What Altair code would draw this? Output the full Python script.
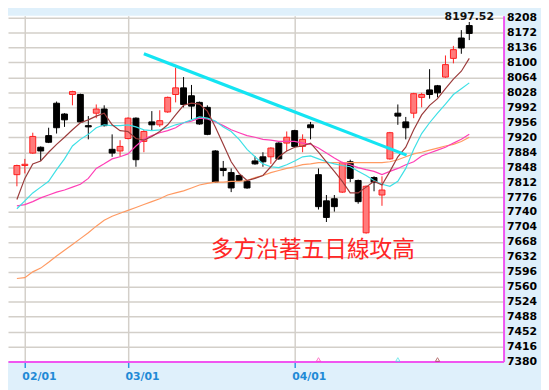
import altair as alt
import pandas as pd

# ---------------- data ----------------
idx = list(range(58))
opens = [7830, 7852, 7882, 7896, 7924, 8002, 7976, 8023, 8023, 7948,
         7978, 7988, 7891, 7887, 7917, 7966, 7910, 7957, 7950, 7981,
         8023, 8039, 8020, 8004, 7992, 7887, 7845, 7835, 7828, 7814,
         7863, 7873, 7873, 7906, 7906, 7936, 7898, 7950, 7830, 7767,
         7772, 7788, 7861, 7816, 7690, 7823, 7781, 7868, 7978, 7957,
         7978, 8016, 8034, 8044, 8065, 8110, 8159, 8189]
highs = [7854, 7868, 7931, 7898, 7943, 8006, 7978, 8032, 8025, 7971,
         7999, 7997, 7927, 7913, 7968, 7968, 7938, 7983, 7985, 8018,
         8088, 8065, 8046, 8006, 7997, 7889, 7863, 7845, 7830, 7816,
         7875, 7884, 7896, 7908, 7934, 7938, 7927, 7957, 7845, 7781,
         7781, 7861, 7866, 7818, 7804, 7826, 7826, 7933, 7999, 7969,
         8027, 8027, 8084, 8046, 8117, 8140, 8178, 8197.52]
lows = [7802, 7833, 7880, 7863, 7906, 7929, 7945, 7997, 7955, 7915,
        7966, 7946, 7873, 7873, 7915, 7849, 7884, 7936, 7945, 7979,
        8004, 7992, 7962, 7950, 7925, 7810, 7826, 7788, 7814, 7796,
        7854, 7849, 7856, 7866, 7887, 7896, 7884, 7915, 7746, 7716,
        7741, 7786, 7812, 7760, 7688, 7790, 7755, 7866, 7950, 7915,
        7966, 7992, 8013, 8016, 8063, 8098, 8121, 8154]
closes = [7852, 7855, 7922, 7887, 7908, 7943, 7962, 8030, 7957, 7945,
          7988, 7948, 7882, 7898, 7966, 7866, 7934, 7950, 7960, 8016,
          8039, 7999, 7995, 7952, 7927, 7812, 7840, 7798, 7816, 7798,
          7856, 7861, 7894, 7868, 7920, 7898, 7915, 7943, 7753, 7727,
          7753, 7859, 7821, 7765, 7802, 7812, 7793, 7931, 7971, 7943,
          8025, 8023, 8023, 8027, 8095, 8131, 8135, 8170]

ma5 = [7770, 7821, 7856, 7863, 7884, 7903, 7920, 7938, 7955, 7962,
       7971, 7978, 7950, 7936, 7934, 7917, 7913, 7922, 7934, 7950,
       7974, 7997, 8002, 8000, 7983, 7945, 7903, 7861, 7833, 7816,
       7821, 7828, 7849, 7873, 7887, 7896, 7899, 7906, 7884, 7861,
       7838, 7814, 7786, 7786, 7800, 7814, 7805, 7838, 7873, 7896,
       7938, 7974, 7997, 8013, 8037, 8060, 8079, 8110]
ma10 = [7748, 7767, 7786, 7800, 7814, 7842, 7868, 7899, 7915, 7927,
        7943, 7950, 7948, 7948, 7950, 7945, 7938, 7936, 7938, 7943,
        7950, 7955, 7962, 7969, 7966, 7959, 7945, 7934, 7915, 7891,
        7873, 7856, 7849, 7847, 7854, 7863, 7873, 7875, 7868, 7861,
        7856, 7852, 7849, 7838, 7828, 7816, 7807, 7802, 7814, 7845,
        7891, 7929, 7955, 7978, 8000, 8023, 8037, 8051]
ma20 = [7755, 7758, 7765, 7774, 7781, 7788, 7793, 7800, 7807, 7821,
        7845, 7856, 7868, 7873, 7880, 7899, 7915, 7924, 7931, 7936,
        7943, 7955, 7959, 7966, 7964, 7957, 7948, 7938, 7931, 7924,
        7920, 7915, 7913, 7910, 7910, 7910, 7906, 7903, 7894, 7882,
        7870, 7859, 7854, 7847, 7842, 7838, 7830, 7838, 7845, 7854,
        7861, 7875, 7882, 7889, 7896, 7906, 7915, 7927]
ma60 = [7580, 7582, 7596, 7605, 7619, 7634, 7648, 7662, 7676, 7690,
        7706, 7720, 7730, 7737, 7744, 7751, 7758, 7765, 7772, 7781,
        7786, 7791, 7798, 7805, 7809, 7812, 7812, 7814, 7814, 7816,
        7823, 7828, 7835, 7840, 7845, 7849, 7854, 7856, 7859, 7859,
        7859, 7859, 7859, 7859, 7859, 7859, 7859, 7861, 7866, 7873,
        7880, 7884, 7889, 7894, 7899, 7903, 7910, 7920]

ma_names = ["MA60", "MA20", "MA10", "MA5"]
ma_colors = ["#ff9a62", "#ff3fb6", "#3ee0e6", "#9b3b3b"]

trend_idx = [16, 49.1]
trend_val = [8121, 7877]

tick_idx = [1, 14, 35]
tick_labels = ["02/01", "03/01", "04/01"]
y_ticks = [7380, 7416, 7452, 7488, 7524, 7560, 7596, 7632, 7668, 7704,
           7740, 7776, 7812, 7848, 7884, 7920, 7956, 7992, 8028, 8064,
           8100, 8136, 8172, 8208]

note_text = "多方沿著五日線攻高"
note_idx, note_val = 37.3, 7648
max_text = "8197.52"

marker_idx = [38, 48, 53]
marker_series = ["MA20", "MA10", "MA5"]
marker_val = 7385

# ---------------- tables ----------------
df = pd.DataFrame({"i": idx, "open": opens, "high": highs, "low": lows, "close": closes})
df["dir"] = ["up" if c >= o else "down" for o, c in zip(opens, closes)]

ma_df = pd.DataFrame({
    "i": idx * 4,
    "v": ma60 + ma20 + ma10 + ma5,
    "s": ["MA60"] * 58 + ["MA20"] * 58 + ["MA10"] * 58 + ["MA5"] * 58,
})
trend_df = pd.DataFrame({"i": trend_idx, "v": trend_val})
note_df = pd.DataFrame({"i": [note_idx], "v": [note_val], "t": [note_text]})
max_df = pd.DataFrame({"i": [idx[-1]], "v": [highs[-1]], "t": [max_text]})
mark_df = pd.DataFrame({"i": marker_idx, "v": [marker_val] * 3, "s": marker_series})

# ---------------- scales / axes ----------------
x_scale = alt.Scale(domain=[-0.5, 60.7], nice=False, zero=False)
y_scale = alt.Scale(domain=[7380, 8212.6], nice=False, zero=False)

label_expr = " : ".join(
    f"datum.value == {v} ? '{t}'" for v, t in zip(tick_idx[:-1], tick_labels[:-1])
) + f" : '{tick_labels[-1]}'"

x_axis = alt.Axis(values=tick_idx, labelExpr=label_expr, labelAlign="left", labelOffset=-3,
                  labelColor="#1f8ad6", labelFont="DejaVu Sans", labelFontSize=11,
                  labelFontWeight="bold", tickColor="#2f95e0", tickSize=6, tickWidth=1.5,
                  domainColor="#f055f0", domainWidth=2, grid=True, gridColor="#d3cfc9",
                  gridWidth=1.5, labelPadding=3, title=None)
y_axis = alt.Axis(orient="right", values=y_ticks, format="d", labelColor="#000000",
                  labelFont="DejaVu Sans", labelFontSize=11, labelFontWeight="bold",
                  ticks=False, labelPadding=3, labelOverlap=False,
                  domainColor="#f055f0", domainWidth=2, grid=True, gridColor="#d3cfc9",
                  gridWidth=1.5, title=None)


def X(field="i:Q"):
    return alt.X(field, scale=x_scale, axis=x_axis)


def Y(field):
    return alt.Y(field, scale=y_scale, axis=y_axis)


dir_dom = ["up", "down"]
stroke_scale = alt.Scale(domain=dir_dom, range=["#ff1e1e", "#000000"])
fill_scale = alt.Scale(domain=dir_dom, range=["#ff7b7b", "#000000"])

wicks = alt.Chart(df).mark_rule(strokeWidth=1).encode(
    x=X(), y=Y("low:Q"), y2="high:Q",
    stroke=alt.Stroke("dir:N", scale=stroke_scale, legend=None),
)

bodies = alt.Chart(df).mark_bar(size=6, strokeWidth=1).encode(
    x=X(), y=Y("open:Q"), y2="close:Q",
    fill=alt.Fill("dir:N", scale=fill_scale, legend=None),
    stroke=alt.Stroke("dir:N", scale=stroke_scale, legend=None),
)

color_scale = alt.Scale(domain=ma_names, range=ma_colors)

lines = alt.Chart(ma_df).mark_line(strokeWidth=1.2).encode(
    x=X(), y=Y("v:Q"),
    color=alt.Color("s:N", scale=color_scale, legend=None),
)

trend = alt.Chart(trend_df).mark_line(strokeWidth=3.2, color="#14e4f2").encode(
    x=X(), y=Y("v:Q"),
)

note = alt.Chart(note_df).mark_text(font="Noto Sans CJK TC", fontSize=23, color="#ff2626",
                                    align="center", baseline="middle").encode(
    x=X(), y=Y("v:Q"), text="t:N",
)

max_label = alt.Chart(max_df).mark_text(font="DejaVu Sans", fontSize=11, fontWeight="bold",
                                        color="#111111", align="center", baseline="bottom",
                                        dy=0).encode(
    x=X(), y=Y("v:Q"), text="t:N",
)

markers = alt.Chart(mark_df).mark_point(shape="triangle-up", filled=False, size=18,
                                        strokeWidth=1).encode(
    x=X(), y=Y("v:Q"),
    color=alt.Color("s:N", scale=color_scale, legend=None),
)

chart = alt.layer(wicks, bodies, lines, trend, note, max_label, markers).properties(
    width=541, height=382, background="#dff0fb",
    padding={"left": 0, "top": 0, "right": 4, "bottom": 6},
    autosize=alt.AutoSizeParams(type="fit", contains="padding"),
).configure_view(fill="white", stroke=None)

chart.save("out.html", embed_options={"renderer": "svg", "actions": False})
